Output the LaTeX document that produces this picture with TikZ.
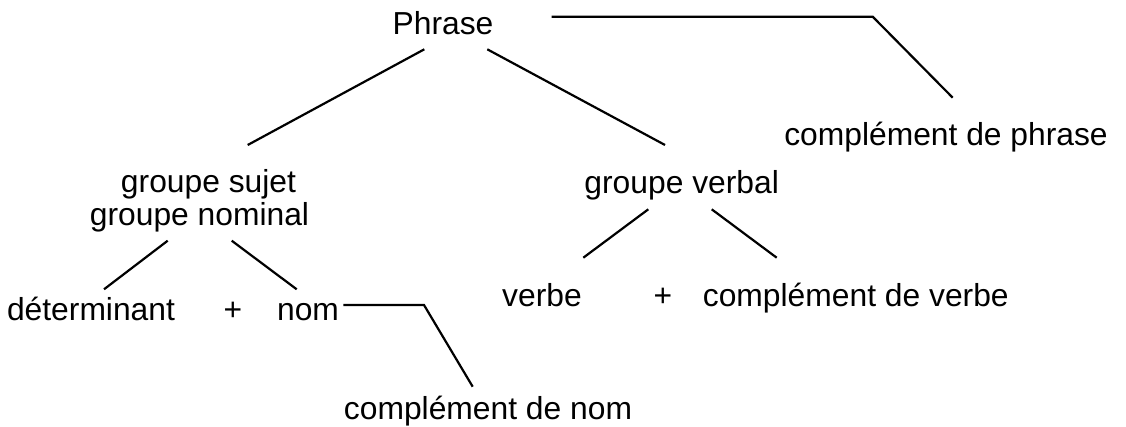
\documentclass[tikz,border=0pt]{standalone}
\usepackage{fontspec}
\setmainfont{Liberation Sans}
\usetikzlibrary{calc}
\begin{document}
\begin{tikzpicture}[x=1pt,y=-1pt,
  lbl/.style={inner sep=0pt,outer sep=0pt,anchor=base,font=\fontsize{31.8}{33}\selectfont},
  link/.style={draw=black,line width=2.2pt,line join=miter}]
\useasboundingbox[fill=white] (0,0) rectangle (1126,426);
% nodes
\node[lbl] (phrase) at (443,34.3) {Phrase};
\node[lbl] (cp) at (946,145) {complément de phrase};
\node[lbl,align=center] (gsn) at (199.5,225) {\hspace*{18pt}groupe sujet\\groupe nominal};
\node[lbl] (gv) at (681.7,193) {groupe verbal};
\node[lbl] (det) at (91,320) {déterminant};
\node[lbl] (plus1) at (233,320) {+};
\node[lbl] (nom) at (308,320) {nom};
\node[lbl] (verbe) at (542,306) {verbe};
\node[lbl] (plus2) at (663,306) {+};
\node[lbl] (cv) at (855.8,306) {complément de verbe};
\node[lbl] (cn) at (488,419) {complément de nom};
% connectors
\draw[link] ($(phrase.base)+(-18.7,15)$) -- ($(gsn.base)+(48.2,-80)$);
\draw[link] ($(phrase.base)+(44.3,15)$) -- ($(gv.base)+(-16.7,-48)$);
\draw[link] ($(phrase.base)+(108.7,-17.6)$) -- ($(phrase.base)+(429.7,-17.6)$) -- ($(cp.base)+(6.7,-47.3)$);
\draw[link] ($(gsn.base)+(-31.8,15.7)$) -- ($(det.base)+(13,-30.7)$);
\draw[link] ($(gsn.base)+(32.2,15.7)$) -- ($(nom.base)+(-11.3,-30.7)$);
\draw[link] ($(gv.base)+(-33.4,16.3)$) -- ($(verbe.base)+(41.3,-48.3)$);
\draw[link] ($(gv.base)+(30,16.3)$) -- ($(cv.base)+(-79.1,-48.3)$);
\draw[link] ($(nom.base)+(35.3,-15)$) -- ($(nom.base)+(116,-15)$) -- ($(cn.base)+(-15.3,-32.3)$);
\end{tikzpicture}
\end{document}
